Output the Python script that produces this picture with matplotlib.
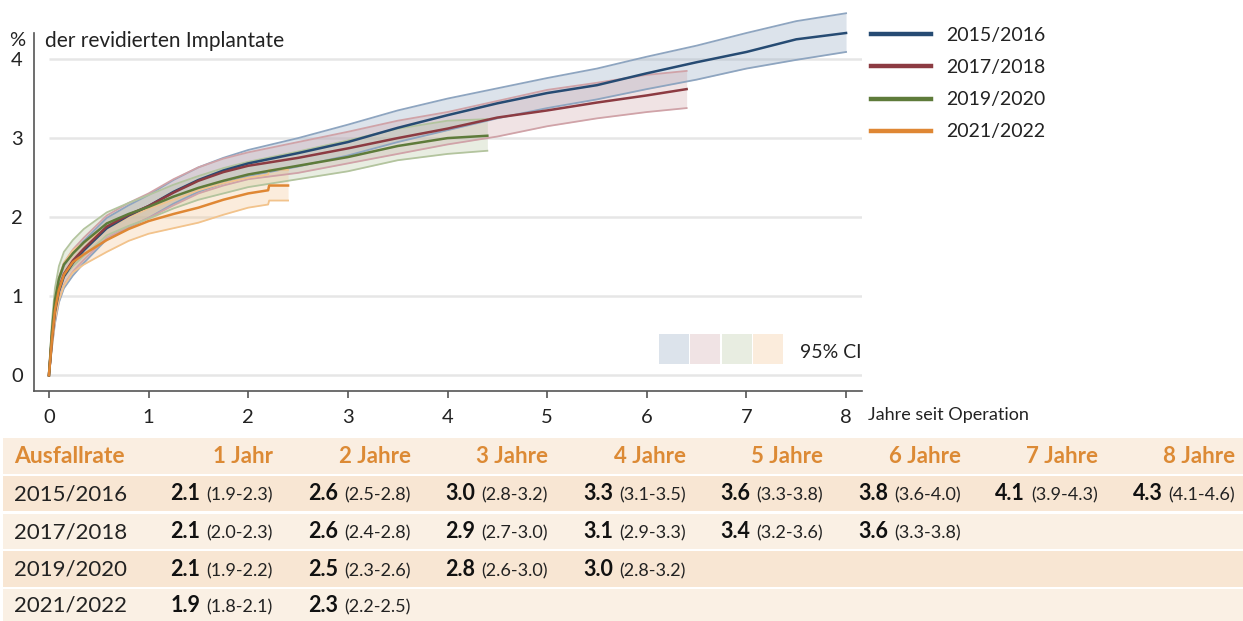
import matplotlib as mpl
mpl.use('Agg')
import matplotlib.pyplot as plt
from matplotlib.patches import Rectangle

plt.rcParams['font.family'] = ['Lato', 'DejaVu Sans']

# --- curve data, cumulative revision rate in % ---
series = ['2015/2016', '2017/2018', '2019/2020', '2021/2022']

t_1516 = [0, 0.03, 0.06, 0.1, 0.15, 0.24, 0.35, 0.58, 0.8, 1, 1.25, 1.5, 1.75, 2, 2.5, 3, 3.5, 4, 4.5, 5, 5.5, 6, 6.5, 7, 7.5, 8]
v_1516 = [0, 0.45, 0.8, 1.06, 1.25, 1.42, 1.58, 1.86, 2.02, 2.14, 2.32, 2.47, 2.59, 2.68, 2.81, 2.95, 3.13, 3.29, 3.44, 3.57, 3.67, 3.82, 3.96, 4.09, 4.25, 4.33]
hi_1516 = [0, 0.55, 0.95, 1.2, 1.38, 1.55, 1.7, 1.99, 2.15, 2.28, 2.47, 2.63, 2.75, 2.85, 3.0, 3.17, 3.35, 3.5, 3.63, 3.76, 3.88, 4.03, 4.17, 4.33, 4.48, 4.58]
lo_1516 = [0, 0.35, 0.65, 0.92, 1.1, 1.26, 1.42, 1.72, 1.87, 1.99, 2.17, 2.32, 2.43, 2.52, 2.64, 2.78, 2.95, 3.1, 3.25, 3.38, 3.49, 3.62, 3.74, 3.88, 3.99, 4.09]

t_1718 = [0, 0.03, 0.06, 0.1, 0.15, 0.24, 0.35, 0.58, 0.8, 1, 1.25, 1.5, 1.75, 2, 2.5, 3, 3.5, 4, 4.5, 5, 5.5, 6, 6.4]
v_1718 = [0, 0.48, 0.83, 1.1, 1.28, 1.45, 1.6, 1.88, 2.03, 2.14, 2.31, 2.46, 2.57, 2.65, 2.75, 2.87, 3.0, 3.12, 3.26, 3.35, 3.45, 3.54, 3.62]
hi_1718 = [0, 0.58, 0.97, 1.24, 1.42, 1.59, 1.74, 2.02, 2.18, 2.3, 2.48, 2.63, 2.74, 2.82, 2.95, 3.08, 3.22, 3.33, 3.47, 3.61, 3.7, 3.8, 3.85]
lo_1718 = [0, 0.38, 0.69, 0.96, 1.14, 1.31, 1.46, 1.74, 1.88, 1.99, 2.15, 2.3, 2.4, 2.48, 2.56, 2.68, 2.8, 2.92, 3.02, 3.15, 3.25, 3.33, 3.38]

t_1920 = [0, 0.03, 0.06, 0.1, 0.15, 0.24, 0.35, 0.58, 0.8, 1, 1.25, 1.5, 1.75, 2, 2.5, 3, 3.5, 4, 4.4]
v_1920 = [0, 0.55, 0.95, 1.22, 1.4, 1.54, 1.68, 1.92, 2.04, 2.13, 2.26, 2.37, 2.46, 2.54, 2.65, 2.76, 2.9, 3.0, 3.03]
hi_1920 = [0, 0.68, 1.1, 1.38, 1.56, 1.71, 1.85, 2.06, 2.18, 2.28, 2.41, 2.52, 2.62, 2.7, 2.83, 2.97, 3.12, 3.22, 3.24]
lo_1920 = [0, 0.42, 0.8, 1.06, 1.24, 1.38, 1.51, 1.77, 1.89, 1.98, 2.11, 2.22, 2.3, 2.38, 2.48, 2.58, 2.72, 2.8, 2.84]

t_2122 = [0, 0.03, 0.06, 0.1, 0.15, 0.24, 0.35, 0.58, 0.8, 1, 1.25, 1.5, 1.75, 2, 2.2, 2.21, 2.4]
v_2122 = [0, 0.45, 0.82, 1.08, 1.27, 1.43, 1.53, 1.71, 1.85, 1.95, 2.04, 2.12, 2.22, 2.3, 2.34, 2.4, 2.4]
hi_2122 = [0, 0.55, 0.95, 1.22, 1.42, 1.58, 1.68, 1.86, 2.0, 2.11, 2.22, 2.34, 2.43, 2.5, 2.54, 2.6, 2.6]
lo_2122 = [0, 0.35, 0.7, 0.95, 1.13, 1.3, 1.4, 1.56, 1.7, 1.79, 1.86, 1.93, 2.03, 2.12, 2.16, 2.21, 2.21]

# --- table data ---
col_labels = ['1 Jahr', '2 Jahre', '3 Jahre', '4 Jahre', '5 Jahre', '6 Jahre', '7 Jahre', '8 Jahre']
est_1516 = [2.1, 2.6, 3.0, 3.3, 3.6, 3.8, 4.1, 4.3]
ci_1516 = ['1.9-2.3', '2.5-2.8', '2.8-3.2', '3.1-3.5', '3.3-3.8', '3.6-4.0', '3.9-4.3', '4.1-4.6']
est_1718 = [2.1, 2.6, 2.9, 3.1, 3.4, 3.6]
ci_1718 = ['2.0-2.3', '2.4-2.8', '2.7-3.0', '2.9-3.3', '3.2-3.6', '3.3-3.8']
est_1920 = [2.1, 2.5, 2.8, 3.0]
ci_1920 = ['1.9-2.2', '2.3-2.6', '2.6-3.0', '2.8-3.2']
est_2122 = [1.9, 2.3]
ci_2122 = ['1.8-2.1', '2.2-2.5']

line_colors = ['#264b73', '#8c3b42', '#5e7b3a', '#df8734']
band_colors = ['#8ea5c0', '#d0a3a8', '#b3c49e', '#f2c38c']
txt_color = '#222222'

W, H = 1243, 621
fig = plt.figure(figsize=(W / 100, H / 100), dpi=100)

# chart axes placed by pixel box
x0, x1, ytop, ybot = 34, 862, 33, 391
ax = fig.add_axes([x0 / W, 1 - ybot / H, (x1 - x0) / W, (ybot - ytop) / H])
ax.set_xlim(-0.15, 8.16)
ax.set_ylim(-0.2, 4.33)
for s in ['top', 'right']:
    ax.spines[s].set_visible(False)
for s in ['left', 'bottom']:
    ax.spines[s].set_color('#555555')
    ax.spines[s].set_linewidth(1.2)
ax.set_xticks(range(9))
ax.set_yticks(range(5))
ax.tick_params(axis='y', length=0, pad=8, labelsize=14.5, labelcolor=txt_color)
ax.tick_params(axis='x', length=5, width=1.2, color='#555555', pad=8, labelsize=14.5, labelcolor=txt_color)
ax.hlines(range(5), 0, 8.16, color='#e6e6e6', lw=1.8, zorder=0)

data = [
    (t_1516, v_1516, lo_1516, hi_1516),
    (t_1718, v_1718, lo_1718, hi_1718),
    (t_1920, v_1920, lo_1920, hi_1920),
    (t_2122, v_2122, lo_2122, hi_2122),
]
for i, (t, v, lo, hi) in enumerate(data):
    ax.fill_between(t, lo, hi, color=band_colors[i], alpha=0.3, lw=0, zorder=1 + i * 0.1, clip_on=False)
    ax.plot(t, lo, color=band_colors[i], lw=1.3, zorder=2, clip_on=False)
    ax.plot(t, hi, color=band_colors[i], lw=1.3, zorder=2, clip_on=False)
handles = []
for i, (t, v, lo, hi) in enumerate(data):
    h, = ax.plot(t, v, color=line_colors[i], lw=1.8, zorder=3, label=series[i], clip_on=False)
    handles.append(h)

leg = fig.legend(handles=handles, loc='upper left', bbox_to_anchor=(871 / W, 1 - 27 / H),
                 frameon=False, fontsize=14, handlelength=3.1, handletextpad=0.77,
                 labelspacing=0.78, borderpad=0, borderaxespad=0)
for ln in leg.get_lines():
    ln.set_linewidth(3.2)
for txt in leg.get_texts():
    txt.set_color(txt_color)

# overlay in pixel coordinates for labels, CI key and table
ov = fig.add_axes([0, 0, 1, 1])
ov.set_xlim(0, W)
ov.set_ylim(H, 0)
ov.axis('off')
ov.patch.set_visible(False)

ov.text(17, 41, '%', fontsize=14.5, ha='center', va='center', color=txt_color)
ov.text(45, 41, 'der revidierten Implantate', fontsize=15, ha='left', va='center', color=txt_color)
ov.text(868, 415, 'Jahre seit Operation', fontsize=13, ha='left', va='center', color=txt_color)

for i, c in enumerate(band_colors):
    ov.add_patch(Rectangle((659 + i * 31.5, 334), 30, 30, facecolor=c, alpha=0.3, lw=0))
ov.text(800, 352, '95% CI', fontsize=14, ha='left', va='center', color=txt_color)

# table
row_tops = [438, 476, 514, 551, 589]
row_bots = [474, 511, 549, 587, 621]
row_bg = ['#faeee1', '#f8e6d3', '#faf0e4', '#f8e6d3', '#faf0e4']
for top, bot, bg in zip(row_tops, row_bots, row_bg):
    ov.add_patch(Rectangle((3, top), W - 3, bot - top, facecolor=bg, lw=0))

col_right = [273, 411, 548, 686, 823, 961, 1098, 1235]
hdr_color = '#dc8a35'
hy = (row_tops[0] + row_bots[0]) / 2 + 7
ov.text(14, hy, 'Ausfallrate', fontsize=16.5, fontweight='bold', color=hdr_color, ha='left', va='baseline')
for xr, lab in zip(col_right, col_labels):
    ov.text(xr, hy, lab, fontsize=16, fontweight='bold', color=hdr_color, ha='right', va='baseline')

renderer = fig.canvas.get_renderer()
rows = [(est_1516, ci_1516), (est_1718, ci_1718), (est_1920, ci_1920), (est_2122, ci_2122)]
for r, (est, ci) in enumerate(rows):
    y = (row_tops[r + 1] + row_bots[r + 1]) / 2 + 7
    ov.text(14, y, series[r], fontsize=16, color=txt_color, ha='left', va='baseline')
    for xr, e, c in zip(col_right, est, ci):
        t_ci = ov.text(xr, y, '(' + c + ')', fontsize=13, color=txt_color, ha='right', va='baseline')
        wpx = t_ci.get_window_extent(renderer=renderer).width
        ov.text(xr - wpx - 6, y, '%.1f' % e, fontsize=15.5, fontweight='bold', color='#111111',
                ha='right', va='baseline')

fig.savefig('out.png', dpi=100)
